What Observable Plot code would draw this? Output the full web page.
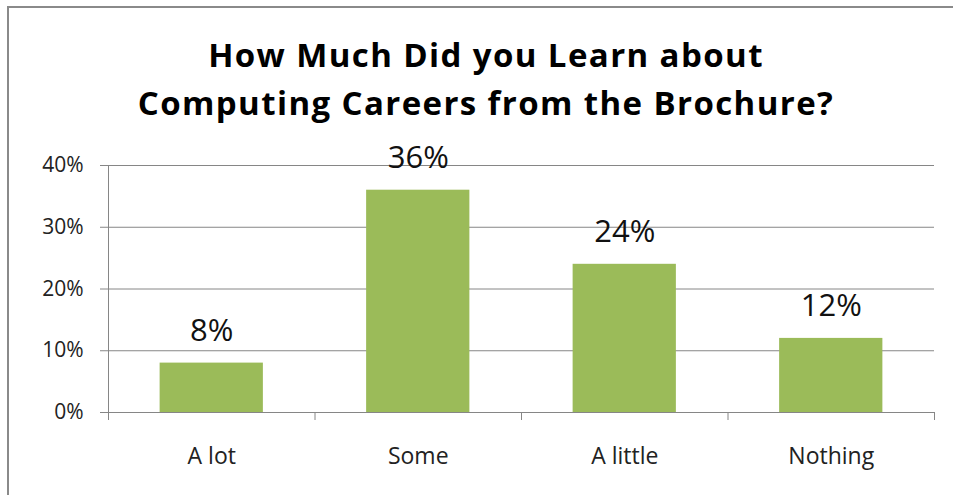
<!DOCTYPE html>
<html>
<head>
<meta charset="utf-8">
<script src="https://cdn.jsdelivr.net/npm/d3@7"></script>
<script src="https://cdn.jsdelivr.net/npm/@observablehq/plot@0.6"></script>
<style>
  html, body { margin: 0; padding: 0; background: #fff; }
  #wrap { position: relative; width: 953px; height: 495px; overflow: hidden; background: #fff; font-family: "Open Sans", sans-serif; }
  #frame { position: absolute; left: 7px; top: 6px; width: 960px; height: 500px; border-top: 2px solid #8a8a8a; border-left: 2px solid #8a8a8a; box-sizing: border-box; }
  #title { position: absolute; left: 0; width: 972px; top: 31px; text-align: center; font-weight: 700; font-size: 33px; letter-spacing: 1.4px; line-height: 48px; color: #000; }
  #chart { position: absolute; left: 0; top: 0; }
</style>
</head>
<body>
<div id="wrap">
  <div id="frame"></div>
  <div id="chart"></div>
  <div id="title">How Much Did you Learn about<br>Computing Careers from the Brochure?</div>
</div>
<script>
const categories = ["A lot", "Some", "A little", "Nothing"];
const values = [0.08, 0.36, 0.24, 0.12];
const yTicks = [0, 0.1, 0.2, 0.3, 0.4];

const data = categories.map((c, i) => ({category: c, index: i, value: values[i]}));
const pct = d3.format(".0%");
const grid = "#868686";

const chart = Plot.plot({
  width: 953,
  height: 495,
  marginLeft: 108,
  marginRight: 19,
  marginTop: 165,
  marginBottom: 83,
  style: {fontFamily: "Open Sans, sans-serif", background: "transparent", color: "#222"},
  x: {type: "linear", domain: [0, categories.length], axis: null},
  y: {domain: [0, 0.4], axis: null},
  marks: [
    Plot.gridY(yTicks, {stroke: grid, strokeOpacity: 1, strokeWidth: 1}),
    Plot.axisY({ticks: yTicks, tickSize: 8, tickPadding: 17, tickFormat: pct, stroke: grid, fill: "#222", fontSize: 21, label: null}),
    Plot.ruleX([0], {y1: 0, y2: 0.4, stroke: grid}),
    Plot.axisX({ticks: d3.range(categories.length + 1), tickSize: 8, tickFormat: () => "", stroke: grid, label: null}),
    Plot.axisX({ticks: categories.map((c, i) => i + 0.5), tickSize: 0, tickPadding: 35, tickFormat: t => categories[Math.floor(t)], fill: "#222", fontSize: 23, label: null}),
    Plot.rectY(data, {x1: d => d.index + 0.25, x2: d => d.index + 0.75, y: "value", fill: "#9BBB59"}),
    Plot.text(data, {x: d => d.index + 0.5, y: "value", text: d => pct(d.value), lineAnchor: "bottom", dy: -22, fontSize: 31, fill: "#111"})
  ]
});
document.getElementById("chart").appendChild(chart);
</script>
</body>
</html>
